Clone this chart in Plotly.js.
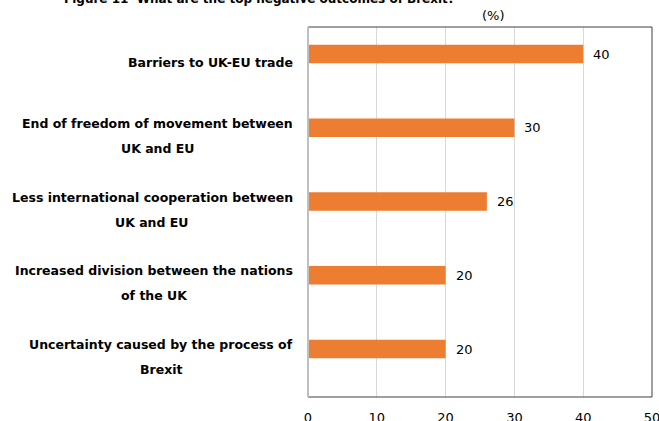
<!DOCTYPE html>
<html><head><meta charset="utf-8">
<script src="https://cdn.plot.ly/plotly-3.0.1.min.js"></script>
<style>html,body{margin:0;padding:0;background:#fff}#chart{width:659px;height:421px}</style>
</head><body><div id="chart"></div>
<script>
const chartTitle = "Figure 11  What are the top negative outcomes of Brexit?";
const unitLabel = "(%)";
const categories = [
  "Barriers to UK-EU trade",
  "End of freedom of movement between<br>UK and EU",
  "Less international cooperation between<br>UK and EU",
  "Increased division between the nations<br>of the UK",
  "Uncertainty caused by the process of<br>Brexit"
];
const values = [40, 30, 26, 20, 20];
const xTickVals = [0, 10, 20, 30, 40, 50];

const W = 659, H = 421;
const M = {l: 308, r: 7, t: 27, b: 24};
const plotW = W - M.l - M.r, plotH = H - M.t - M.b;
const FONT = "DejaVu Sans, Verdana, sans-serif";
const labelSize = 12.5;

const cv = document.createElement('canvas').getContext('2d');
cv.font = "bold " + labelSize + "px 'DejaVu Sans'";

const annotations = [];
const labelRight = 293;
categories.forEach((cat, i) => {
  const lines = cat.split("<br>");
  const w = Math.max(...lines.map(s => cv.measureText(s).width));
  const xc = labelRight - w / 2;
  const n = lines.length;
  lines.forEach((ln, j) => {
    const off = 8 + (j - (n - 1) / 2) * 25;
    annotations.push({
      text: "<b>" + ln + "</b>", xref: "paper", x: (xc - M.l) / plotW, xanchor: "center",
      yref: "y", y: cat, yanchor: "middle", yshift: -off, showarrow: false,
      font: {family: FONT, size: labelSize, color: "#000"}
    });
  });
  annotations.push({
    text: String(values[i]), xref: "x", x: values[i], xanchor: "left", xshift: 8,
    yref: "y", y: cat, yanchor: "middle", showarrow: false,
    font: {family: FONT, size: 13, color: "#000"}
  });
});
annotations.push({
  text: "<b>" + chartTitle + "</b>", xref: "paper", x: (259 - M.l) / plotW, xanchor: "center",
  yref: "paper", y: (H - M.b - (-1)) / plotH, yanchor: "middle", showarrow: false,
  font: {family: FONT, size: 12, color: "#000"}
});
annotations.push({
  text: unitLabel, xref: "paper", x: (493 - M.l) / plotW, xanchor: "center",
  yref: "paper", y: (H - M.b - 15) / plotH, yanchor: "middle", showarrow: false,
  font: {family: FONT, size: 13, color: "#000"}
});

const trace = {
  type: "bar", orientation: "h", x: values, y: categories,
  marker: {color: "#ED7D31"}, hoverinfo: "none"
};

const layout = {
  width: W, height: H, margin: M, paper_bgcolor: "#fff", plot_bgcolor: "#fff",
  showlegend: false, bargap: 0.75,
  font: {family: FONT, size: 13, color: "#000"},
  xaxis: {range: [0, 50.0001], tickvals: xTickVals, showgrid: true, gridcolor: "#d9d9d9", gridwidth: 1,
          zeroline: false, showline: false, ticks: "", ticklabelstandoff: 11, ticklabeloverflow: "allow",
          tickfont: {family: FONT, size: 13, color: "#000"}},
  yaxis: {type: "category", range: [4.65, -0.366], showticklabels: false, showgrid: false,
          zeroline: false, showline: false, ticks: ""},
  shapes: [
    {type: "rect", xref: "paper", yref: "paper", x0: 0, x1: 1, y0: 0, y1: 1,
     line: {color: "#404040", width: 1}},
    {type: "line", xref: "paper", yref: "paper", x0: 0, x1: 0, y0: 0, y1: 1,
     line: {color: "#bfbfbf", width: 2}}
  ],
  annotations: annotations
};

Plotly.newPlot("chart", [trace], layout, {staticPlot: true, displayModeBar: false});
</script></body></html>
